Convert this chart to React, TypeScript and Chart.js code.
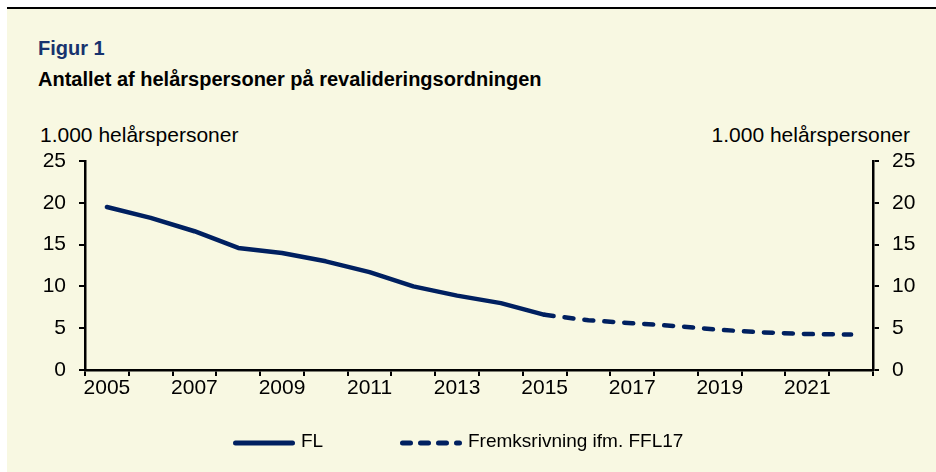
import React, { useEffect, useRef } from 'react';
import { Chart, registerables } from 'chart.js';

Chart.register(...registerables);

const years = ['2005', '2006', '2007', '2008', '2009', '2010', '2011', '2012', '2013', '2014', '2015', '2016', '2017', '2018', '2019', '2020', '2021', '2022'];
const flValues = [19.5, 18.2, 16.6, 14.6, 14.0, 13.0, 11.7, 10.0, 8.9, 8.0, 6.6, null, null, null, null, null, null, null];
const forecastValues = [null, null, null, null, null, null, null, null, null, null, 6.6, 5.95, 5.6, 5.25, 4.8, 4.5, 4.3, 4.25];
const seriesLabels = ['FL', 'Fremksrivning ifm. FFL17'];
const yMin = 0;
const yMax = 25;
const yStep = 5;

const NAVY = '#002060';
const FONT = '"Liberation Sans", Arial, sans-serif';

const legendStartX = [233, 400];
const legendDash = [[], [8, 10]];

const legendPlugin = {
  id: 'customLegend',
  afterDraw(chart: any) {
    const ctx = chart.ctx;
    ctx.save();
    const y = 443;
    chart.data.datasets.forEach((ds: any, i: number) => {
      const x = legendStartX[i];
      ctx.beginPath();
      ctx.setLineDash(legendDash[i]);
      ctx.lineCap = 'round';
      ctx.lineWidth = 5;
      ctx.strokeStyle = ds.borderColor;
      ctx.moveTo(x + 2.5, y);
      ctx.lineTo(x + 59.5, y);
      ctx.stroke();
      ctx.setLineDash([]);
      ctx.fillStyle = '#000';
      ctx.font = `19px ${FONT}`;
      ctx.textBaseline = 'middle';
      ctx.textAlign = 'left';
      ctx.fillText(ds.label, x + 68, y - 1);
    });
    ctx.restore();
  },
};

export default function App() {
  const canvasRef = useRef<HTMLCanvasElement | null>(null);

  useEffect(() => {
    if (!canvasRef.current) return;
    const gridStyle = {
      display: true,
      drawOnChartArea: false,
      drawTicks: true,
      tickLength: 6,
      color: '#000',
      lineWidth: 2,
    };
    const borderStyle = { display: true, color: '#000', width: 2.5 };
    const chart = new Chart(canvasRef.current, {
      type: 'line',
      data: {
        labels: years,
        datasets: [
          {
            label: seriesLabels[0],
            data: flValues,
            borderColor: NAVY,
            backgroundColor: NAVY,
            borderWidth: 4.5,
            pointRadius: 0,
            borderCapStyle: 'round',
            borderJoinStyle: 'round',
            tension: 0,
            spanGaps: false,
          },
          {
            label: seriesLabels[1],
            data: forecastValues,
            borderColor: NAVY,
            backgroundColor: NAVY,
            borderWidth: 4.5,
            borderDash: [9, 11],
            pointRadius: 0,
            borderCapStyle: 'round',
            borderJoinStyle: 'round',
            tension: 0,
            spanGaps: false,
          },
        ],
      },
      options: {
        animation: false,
        responsive: false,
        maintainAspectRatio: false,
        layout: { padding: { top: 161, left: 0, right: 0, bottom: 0 } },
        plugins: {
          legend: { display: false },
          tooltip: { enabled: false },
          title: { display: false },
        },
        scales: {
          x: {
            type: 'category',
            offset: true,
            grid: { ...gridStyle, offset: true },
            border: borderStyle,
            ticks: {
              autoSkip: false,
              maxRotation: 0,
              minRotation: 0,
              padding: 0,
              color: '#000',
              font: { family: FONT, size: 21 },
              callback: (_v: any, i: number) => (i % 2 === 0 ? years[i] : ''),
            },
            afterFit: (scale: any) => {
              scale.height = 102;
            },
          },
          y: {
            position: 'left',
            min: yMin,
            max: yMax,
            grid: gridStyle,
            border: borderStyle,
            ticks: {
              stepSize: yStep,
              padding: 13,
              color: '#000',
              font: { family: FONT, size: 21 },
            },
            afterFit: (scale: any) => {
              scale.width = 85;
            },
          },
          y2: {
            position: 'right',
            min: yMin,
            max: yMax,
            grid: gridStyle,
            border: borderStyle,
            ticks: {
              stepSize: yStep,
              padding: 13,
              color: '#000',
              font: { family: FONT, size: 21 },
            },
            afterFit: (scale: any) => {
              scale.width = 63;
            },
          },
        },
      },
      plugins: [legendPlugin],
    });
    return () => chart.destroy();
  }, []);

  const textBase: React.CSSProperties = {
    position: 'absolute',
    fontFamily: FONT,
    lineHeight: 1,
    whiteSpace: 'nowrap',
    margin: 0,
  };

  return (
    <div style={{ position: 'absolute', left: 0, top: 0, width: 936, height: 472, background: '#fff', overflow: 'hidden' }}>
      <div style={{ position: 'absolute', left: 7, top: 9, width: 929, height: 463, background: '#F8F8E2' }} />
      <div style={{ position: 'absolute', left: 7, top: 7, width: 929, height: 2, background: '#000' }} />
      <div style={{ ...textBase, left: 38, top: 38, fontSize: 20, fontWeight: 'bold', color: '#17336E' }}>Figur 1</div>
      <div style={{ ...textBase, left: 38, top: 69, fontSize: 20, fontWeight: 'bold', color: '#000' }}>
        Antallet af helårspersoner på revalideringsordningen
      </div>
      <div style={{ ...textBase, left: 40, top: 124, fontSize: 21, color: '#000' }}>1.000 helårspersoner</div>
      <div style={{ ...textBase, right: 26, top: 124, fontSize: 21, color: '#000' }}>1.000 helårspersoner</div>
      <canvas ref={canvasRef} width={936} height={472} style={{ position: 'absolute', left: 0, top: 0, width: 936, height: 472 }} />
    </div>
  );
}
